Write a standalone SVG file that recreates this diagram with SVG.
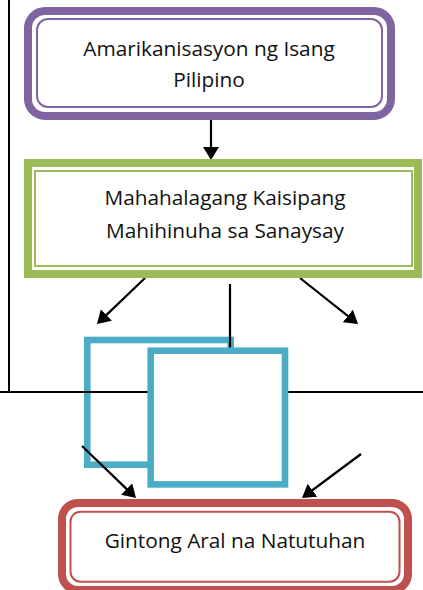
<svg xmlns="http://www.w3.org/2000/svg" width="423" height="590" viewBox="0 0 423 590">
  <defs>
    <style>
      .lbl { font-family: "Open Sans", "Liberation Sans", sans-serif; font-size: 20.8px; fill: #111; text-anchor: middle; }
      .conn { stroke: #000; stroke-width: 2.2; fill: none; }
      .arrow { marker-end: url(#ah); }
      .page { stroke: #000; stroke-width: 2; fill: none; }
      .sq { fill: #fff; stroke: #4BACC6; stroke-width: 6.6; }
    </style>
    <marker id="ah" viewBox="0 0 13 16" refX="3" refY="8" markerWidth="13" markerHeight="16" markerUnits="userSpaceOnUse" orient="auto">
      <path d="M0,0 L13,8 L0,16 Z" fill="#000"/>
    </marker>
  </defs>
  <rect width="423" height="590" fill="#fff"/>

  <g id="square-back">
    <rect class="sq" x="87.3" y="340" width="143.4" height="124.7"/>
  </g>

  <g id="page-lines">
    <line class="page" x1="9" y1="0" x2="9" y2="392"/>
    <line class="page" x1="0" y1="392" x2="423" y2="392"/>
  </g>

  <g id="connectors">
    <line class="conn arrow" x1="211" y1="120" x2="211" y2="150"/>
    <line class="conn arrow" x1="145" y1="278" x2="104.2" y2="317.1"/>
    <line class="conn arrow" x1="300" y1="278" x2="350.2" y2="317.8"/>
    <line class="conn" x1="230" y1="284" x2="230" y2="348"/>
    <line class="conn arrow" x1="82" y1="446" x2="128.8" y2="491.1"/>
    <line class="conn arrow" x1="361" y1="454" x2="310" y2="492"/>
  </g>

  <g id="square-front">
    <rect class="sq" x="150.7" y="350.7" width="134.3" height="133.7"/>
  </g>

  <g id="node-amerikanisasyon">
    <rect x="28" y="11" width="363" height="105" rx="17" fill="#fff" stroke="#8064A2" stroke-width="8"/>
    <rect x="37" y="19" width="345" height="88" rx="11" fill="none" stroke="#8064A2" stroke-width="2"/>
    <text class="lbl" x="209" y="56">Amarikanisasyon ng Isang</text>
    <text class="lbl" x="209" y="86.5">Pilipino</text>
  </g>

  <g id="node-kaisipan">
    <rect x="28" y="163" width="390" height="111" fill="#fff" stroke="#9BBB59" stroke-width="8"/>
    <rect x="35" y="171" width="377" height="95" fill="none" stroke="#9BBB59" stroke-width="2"/>
    <text class="lbl" x="225" y="205">Mahahalagang Kaisipang</text>
    <text class="lbl" x="225" y="237.5">Mahihinuha sa Sanaysay</text>
  </g>

  <g id="node-gintong-aral">
    <rect x="62" y="503" width="346" height="87" rx="16" fill="#fff" stroke="#C0504D" stroke-width="8"/>
    <rect x="70.5" y="511.7" width="329" height="70" rx="10" fill="none" stroke="#C0504D" stroke-width="2"/>
    <text class="lbl" x="235" y="548">Gintong Aral na Natutuhan</text>
  </g>
</svg>
